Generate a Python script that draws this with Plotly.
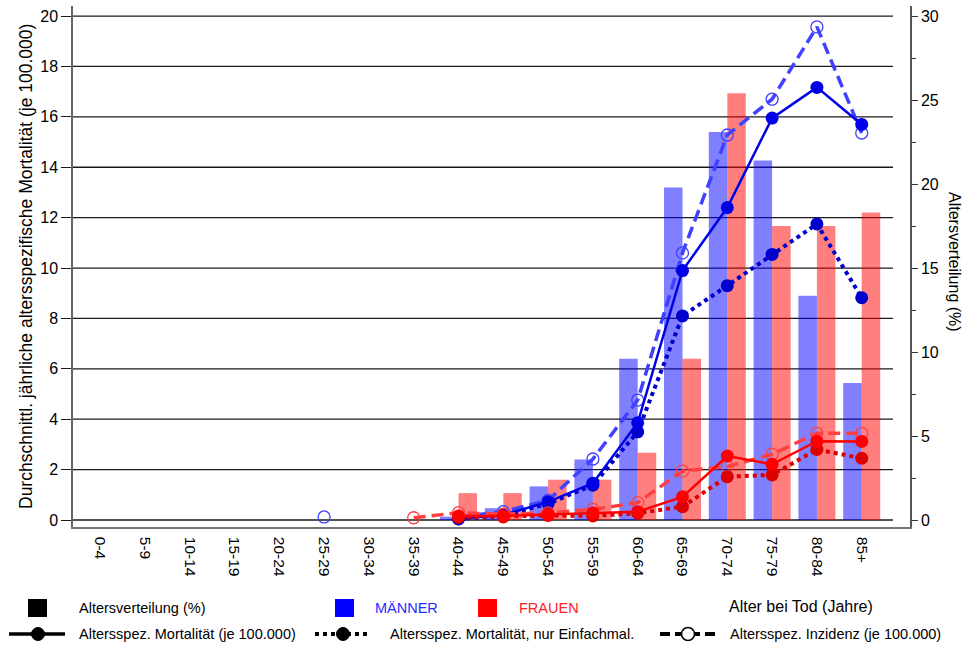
import plotly.graph_objects as go

# ---------------- data ----------------
age_groups = ["0-4", "5-9", "10-14", "15-19", "20-24", "25-29", "30-34", "35-39",
              "40-44", "45-49", "50-54", "55-59", "60-64", "65-69", "70-74",
              "75-79", "80-84", "85+"]

# age distribution of deaths (%), right axis
men_dist = [None] * 8 + [0.2, 0.7, 2.0, 3.6, 9.6, 19.8, 23.1, 21.4, 13.35, 8.15]
women_dist = [None] * 8 + [1.6, 1.6, 2.4, 2.4, 4.0, 9.6, 25.4, 17.5, 17.5, 18.3]

# age-specific mortality (per 100,000), left axis
men_mort = [None] * 8 + [0.05, 0.2, 0.72, 1.46, 3.86, 9.9, 12.4, 15.95, 17.17, 15.7]
men_mort_single = [None] * 8 + [0.04, 0.17, 0.65, 1.38, 3.5, 8.1, 9.3, 10.54, 11.75, 8.82]
men_inc = [None] * 5 + [0.12, None, None, 0.12, 0.33, 0.78, 2.42, 4.76, 10.6,
                        15.28, 16.7, 19.57, 15.36]

women_mort = [None] * 8 + [0.16, 0.16, 0.22, 0.28, 0.33, 0.92, 2.54, 2.21, 3.13, 3.12]
women_mort_single = [None] * 8 + [0.1, 0.12, 0.18, 0.16, 0.27, 0.53, 1.72, 1.79, 2.8, 2.45]
women_inc = [None] * 7 + [0.09, 0.29, 0.23, 0.28, 0.42, 0.69, 1.94, 2.12, 2.61, 3.44, 3.44]

left_ticks = list(range(0, 21, 2))
right_ticks = list(range(0, 31, 5))

FONT = "Liberation Sans, Arial, sans-serif"

# plot-area geometry (pixels) used for paper-coordinate placement of decorations
PL, PR, PT, PB = 73, 910, 6, 527


def X(px):
    return (px - PL) / (PR - PL)


def Y(py):
    return (PB - py) / (PB - PT)


fig = go.Figure()

# ---------------- bars (right axis) ----------------
fig.add_trace(go.Bar(x=age_groups, y=men_dist, yaxis="y", name="Männer",
                     marker=dict(color="rgba(0,0,255,0.5)", line=dict(width=0)),
                     showlegend=False))
fig.add_trace(go.Bar(x=age_groups, y=women_dist, yaxis="y", name="Frauen",
                     marker=dict(color="rgba(255,0,0,0.5)", line=dict(width=0)),
                     showlegend=False))


def add_line(y, color, dash, width, symbol, msize, mline=0):
    fig.add_trace(go.Scatter(
        x=age_groups, y=y, yaxis="y2", mode="lines+markers", connectgaps=False,
        line=dict(color=color, dash=dash, width=width),
        marker=dict(symbol=symbol, size=msize, color=color,
                    line=dict(color=color, width=mline)),
        showlegend=False))


# men
add_line(men_inc, "#4040FF", "12px,6px", 3.5, "circle-open", 12, 1.3)
add_line(men_mort_single, "#0000CC", "dot", 4, "circle", 13)
add_line(men_mort, "#0000E6", "solid", 2.5, "circle", 13)
# women
add_line(women_inc, "#FF4040", "12px,6px", 3.5, "circle-open", 12, 1.3)
add_line(women_mort_single, "#DD0000", "dot", 4, "circle", 13)
add_line(women_mort, "#FF0000", "solid", 2.5, "circle", 13)

shapes = []
# horizontal gridlines at the left-axis ticks
for v in left_ticks:
    shapes.append(dict(type="line", xref="paper", yref="y2", x0=0, x1=X(893),
                       y0=v, y1=v, line=dict(color="#1a1a1a", width=1.3),
                       layer="below"))

# ---------------- legend (decorations) ----------------
ry1, ry2 = 608, 634
shapes += [
    dict(type="rect", xref="paper", yref="paper", x0=X(28), x1=X(47),
         y0=Y(617), y1=Y(599), fillcolor="black", line=dict(width=0)),
    dict(type="rect", xref="paper", yref="paper", x0=X(335), x1=X(354),
         y0=Y(617), y1=Y(599), fillcolor="#0000FF", line=dict(width=0)),
    dict(type="rect", xref="paper", yref="paper", x0=X(478), x1=X(497),
         y0=Y(617), y1=Y(599), fillcolor="#FF0000", line=dict(width=0)),
    # solid
    dict(type="line", xref="paper", yref="paper", x0=X(9), x1=X(65),
         y0=Y(ry2), y1=Y(ry2), line=dict(color="black", width=3.5)),
    dict(type="circle", xref="paper", yref="paper", x0=X(31.5), x1=X(44.5),
         y0=Y(ry2 + 6.5), y1=Y(ry2 - 6.5), fillcolor="black",
         line=dict(color="black", width=1)),
    # dotted
    dict(type="line", xref="paper", yref="paper", x0=X(315), x1=X(370),
         y0=Y(ry2), y1=Y(ry2), line=dict(color="black", width=4, dash="dot")),
    dict(type="circle", xref="paper", yref="paper", x0=X(336.5), x1=X(349.5),
         y0=Y(ry2 + 6.5), y1=Y(ry2 - 6.5), fillcolor="black",
         line=dict(color="black", width=1)),
    # dashed
    dict(type="line", xref="paper", yref="paper", x0=X(660), x1=X(718),
         y0=Y(ry2), y1=Y(ry2), line=dict(color="black", width=4, dash="10px,5px")),
    dict(type="circle", xref="paper", yref="paper", x0=X(681.5), x1=X(694.5),
         y0=Y(ry2 + 6.5), y1=Y(ry2 - 6.5), fillcolor="white",
         line=dict(color="black", width=1.5)),
]


def ann(px, py, text, size=14.5, color="black"):
    return dict(x=X(px), y=Y(py), xref="paper", yref="paper", text=text,
                showarrow=False, xanchor="left", yanchor="middle",
                font=dict(family=FONT, size=size, color=color))


annotations = [
    ann(77, ry1, "Altersverteilung (%)"),
    ann(373, ry1, "MÄNNER", color="#2a2aFF"),
    ann(517, ry1, "FRAUEN", color="#FF2020"),
    ann(727, ry1 - 2, "Alter bei Tod (Jahre)", size=16),
    ann(77, ry2, "Altersspez. Mortalität (je 100.000)"),
    ann(388, ry2, "Altersspez. Mortalität, nur Einfachmal."),
    ann(728, ry2, "Altersspez. Inzidenz (je 100.000)"),
    # axis titles
    dict(x=X(26), y=Y(267), xref="paper", yref="paper",
         text="Durchschnittl. jährliche altersspezifische Mortalität (je 100.000)",
         textangle=-90, showarrow=False, xanchor="center", yanchor="middle",
         font=dict(family=FONT, size=17.5, color="black")),
    dict(x=X(955), y=Y(262), xref="paper", yref="paper",
         text="Altersverteilung (%)", textangle=90, showarrow=False,
         xanchor="center", yanchor="middle",
         font=dict(family=FONT, size=16, color="black")),
]

fig.update_layout(
    width=963, height=648,
    margin=dict(l=PL, r=963 - PR, t=PT, b=648 - PB),
    paper_bgcolor="white", plot_bgcolor="white",
    font=dict(family=FONT, size=15, color="black"),
    barmode="group", bargap=0.174, bargroupgap=0,
    showlegend=False,
    xaxis=dict(type="category", categoryorder="array", categoryarray=age_groups,
               range=[-0.605, 18.078], tickangle=90, ticks="",
               ticklabelstandoff=5,
               showline=True, linecolor="#777777", linewidth=1.5,
               showgrid=False, zeroline=False,
               tickfont=dict(family=FONT, size=15.5, color="black")),
    yaxis=dict(side="right", range=[-0.417, 30.6], tickvals=right_ticks,
               ticks="outside", ticklen=6, tickwidth=1.3, tickcolor="#333333",
               minor=dict(dtick=2.5, ticks="outside", ticklen=4,
                          tickcolor="#333333", tickwidth=1.3, showgrid=False),
               showline=True, linecolor="#555555", linewidth=1.5,
               showgrid=False, zeroline=False,
               tickfont=dict(family=FONT, size=16, color="black")),
    yaxis2=dict(side="left", overlaying="y", range=[-0.278, 20.4],
                tickvals=left_ticks, ticks="outside", ticklen=10,
                tickwidth=1.3, tickcolor="#1a1a1a",
                showline=True, linecolor="#666666", linewidth=1.5,
                showgrid=False, zeroline=False,
                tickfont=dict(family=FONT, size=16, color="black")),
    shapes=shapes,
    annotations=annotations,
)

fig.write_html("out.html",
               config={"displayModeBar": False},
               post_script="document.body.style.margin='0';"
                           "document.body.style.padding='0';")
